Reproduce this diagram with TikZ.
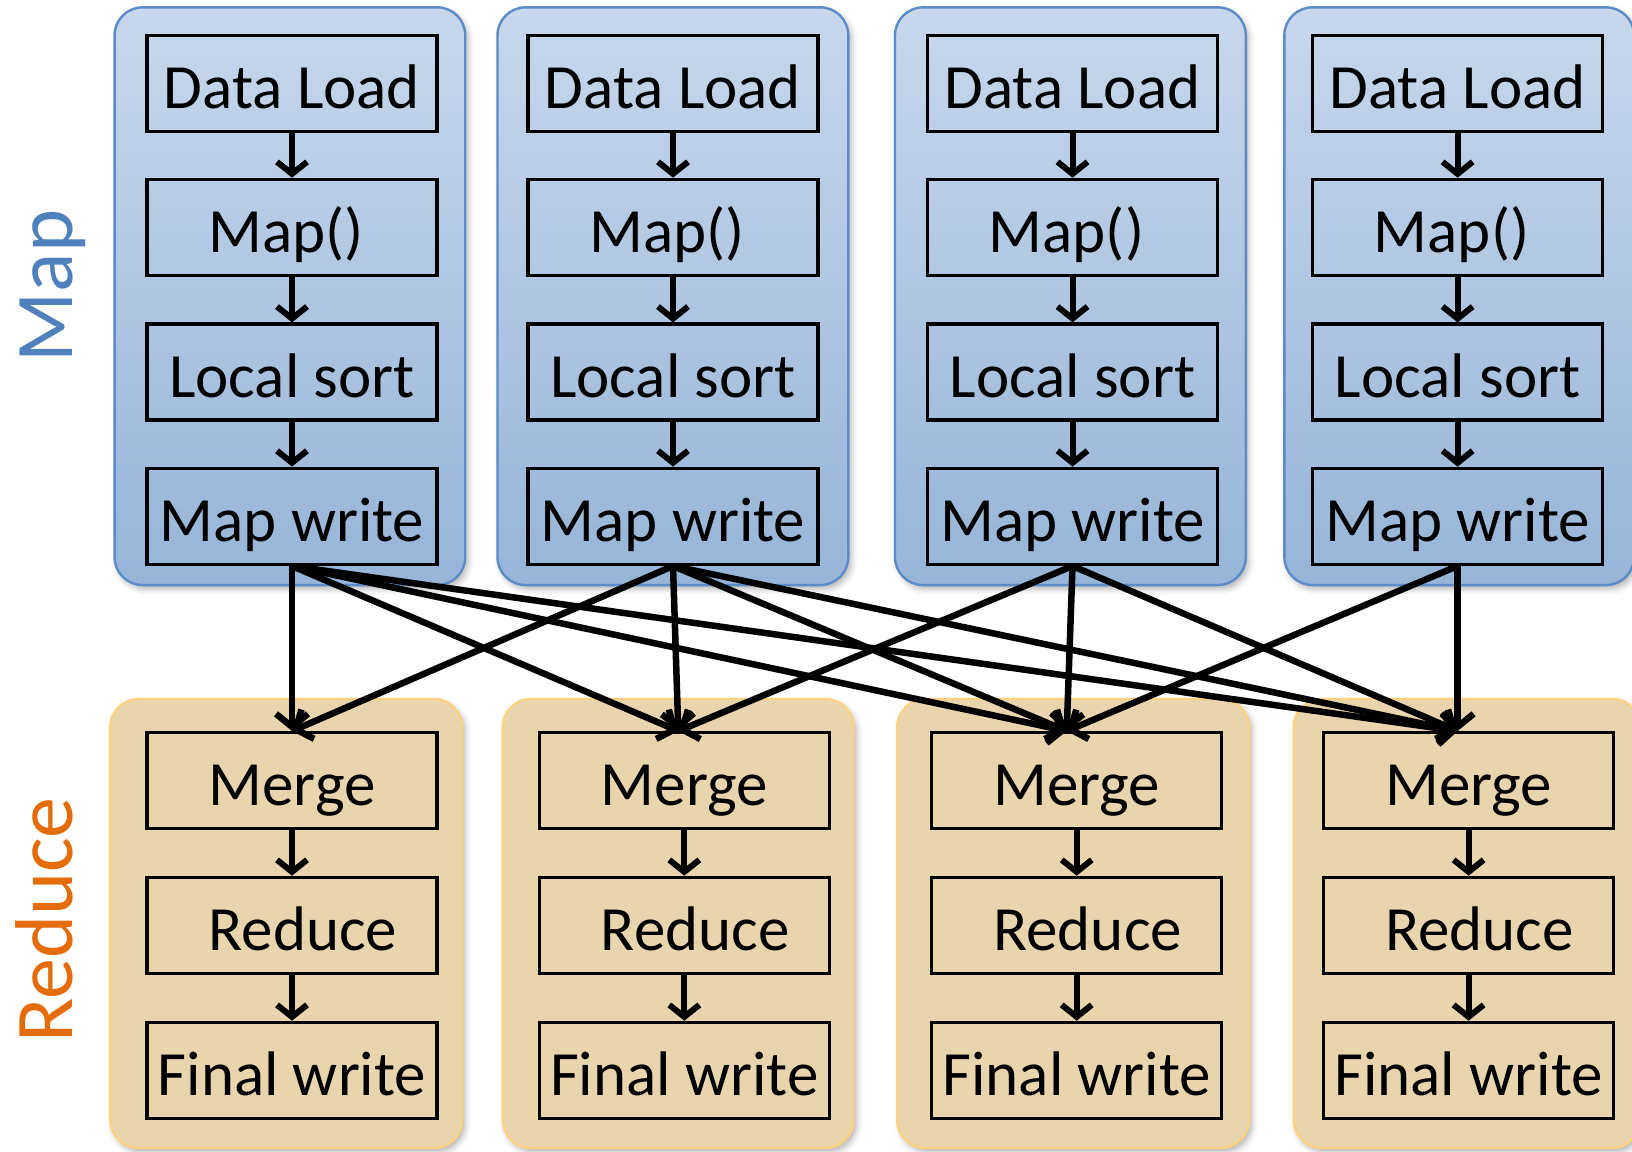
\documentclass[tikz,border=0pt]{standalone}
\usepackage{fontspec}
\setmainfont{Carlito}
\usetikzlibrary{arrows.meta,shadows.blur}

\definecolor{maplabel}{RGB}{79,129,189}
\definecolor{redlabel}{RGB}{228,108,10}
\definecolor{maptop}{RGB}{200,215,236}
\definecolor{mapbot}{RGB}{150,181,216}
\definecolor{mapedge}{RGB}{92,140,200}
\definecolor{redfill}{RGB}{232,213,173}
\definecolor{rededge}{RGB}{252,210,130}

\begin{document}
\begin{tikzpicture}[x=1pt,y=-1pt,
  container/.style={rectangle, rounded corners=28pt, inner sep=0pt, line width=2.4pt,
    blur shadow={shadow xshift=3pt, shadow yshift=-4pt, shadow blur radius=6pt, shadow opacity=30}},
  mapc/.style={container, draw=mapedge, top color=maptop, bottom color=mapbot, minimum height=577.7pt},
  redc/.style={container, draw=rededge, fill=redfill, minimum height=449pt},
  stage/.style={draw, line width=3.4pt, rectangle, minimum width=290pt, minimum height=96pt,
    inner sep=0pt, text height=60pt, text depth=10pt, font=\fontsize{63}{70}\selectfont},
  flow/.style={line width=6pt, -{Straight Barb[length=12pt, width=30pt]}},
  shuffle/.style={line width=6.5pt, -{Straight Barb[length=13pt, width=32pt]}},
  side/.style={rotate=90, anchor=base, font=\fontsize{82}{90}\selectfont, inner sep=0pt}
]
\useasboundingbox (0,0) rectangle (1632,1151);

% phase labels
\node[side, text=maplabel] (lblmap) at (72,286) {Map};
\node[side, text=redlabel] (lblred) at (72,920) {Reduce};

% map containers
\foreach \i/\cx/\cw in {1/289.9/350.7pt, 2/672.9/350.8pt, 3/1070.4/350.8pt, 4/1459.2/349.7pt}
  \node[mapc, minimum width=\cw] (mc\i) at (\cx,296.2) {};

% reduce containers
\foreach \i/\cx/\cw in {1/286.2/351.8pt, 2/678.1/350.8pt, 3/1073.1/351.8pt, 4/1466.9/346.3pt}
  \node[redc, minimum width=\cw] (rc\i) at (\cx,923.5) {};

% map stages
\foreach \i/\cx in {1/292, 2/673, 3/1072.5, 4/1457.6} {
  \node[stage] (dl\i) at (\cx,83.4) {Data Load};
  \node[stage] (mp\i) at (\cx,227.4) {Map()\hspace*{12pt}};
  \node[stage] (ls\i) at (\cx,372.1) {Local sort};
  \node[stage] (mw\i) at (\cx,516.3) {Map write};
  \draw[flow] (dl\i) -- (mp\i);
  \draw[flow] (mp\i) -- (ls\i);
  \draw[flow] (ls\i) -- (mw\i);
}

% reduce stages
\foreach \i/\cx in {1/292, 2/684.3, 3/1076.7, 4/1468.6} {
  \node[stage] (mg\i) at (\cx,780.7) {Merge};
  \node[stage] (rd\i) at (\cx,925.4) {\hspace*{22pt}Reduce};
  \node[stage] (fw\i) at (\cx,1070.4) {Final write};
  \draw[flow] (mg\i) -- (rd\i);
  \draw[flow] (rd\i) -- (fw\i);
}

% entry points on the merge boxes
\coordinate (in1) at (mg1.north);
\coordinate (in2) at ([xshift=-6pt]mg2.north);
\coordinate (in3) at ([xshift=-10pt]mg3.north);
\coordinate (in4) at ([xshift=-11pt]mg4.north);

% shuffle connections
\foreach \s/\t in {1/1,1/2,1/3,1/4,2/1,2/2,2/3,2/4,3/2,3/3,3/4,4/3,4/4}
  \draw[shuffle] (mw\s.south) -- (in\t);
\end{tikzpicture}
\end{document}
